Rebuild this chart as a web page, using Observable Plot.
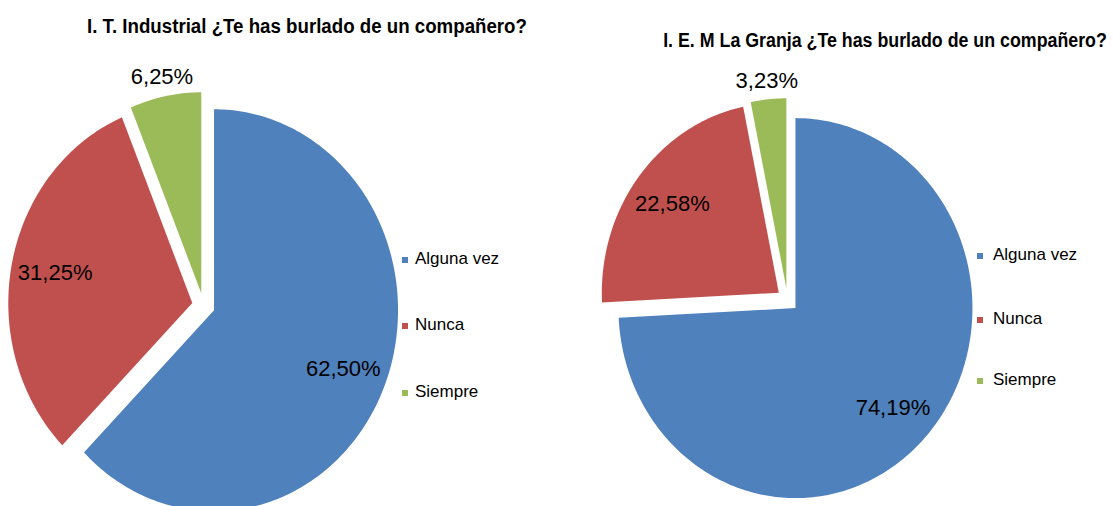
<!DOCTYPE html>
<html><head><meta charset="utf-8">
<script src="https://cdn.jsdelivr.net/npm/d3@7"></script>
<script src="https://cdn.jsdelivr.net/npm/@observablehq/plot@0.6"></script>
<style>
html,body{margin:0;padding:0;background:#fff;overflow:hidden;}
#wrap{position:relative;width:1113px;height:506px;font-family:"Liberation Sans",Arial,sans-serif;color:#000;}
#wrap svg{position:absolute;left:0;top:0;}
.title{position:absolute;font-weight:bold;font-size:18.5px;line-height:20px;white-space:nowrap;transform:translateX(-50%) scaleY(1.1);transform-origin:50% 80%;}
.leg{position:absolute;font-size:17px;line-height:20px;white-space:nowrap;}
.sw{position:absolute;width:6px;height:6px;}
</style></head><body><div id="wrap"></div>
<script>
// ---- data ----
const categories = ["Alguna vez", "Nunca", "Siempre"];
const colors = ["#4F81BD", "#C0504D", "#9BBB59"];
const titles = ["I. T. Industrial ¿Te has burlado de un compañero?", "I. E. M La Granja ¿Te has burlado de un compañero?"];
const industrialValues = [62.50, 31.25, 6.25];
const granjaValues = [74.19, 22.58, 3.23];

// ---- layout ----
const pies = [
  {values: industrialValues, title: titles[0], cx: 203, cy: 305, rx: 184, ry: 201,
   titleX: 307, titleW: 440, titleBase: 33, legX: 402, legTextX: 415, legY: [259.5, 326, 392.5]},
  {values: granjaValues, title: titles[1], cx: 787, cy: 299.5, rx: 177, ry: 190,
   titleX: 885, titleW: 444, titleBase: 47, legX: 977, legTextX: 993, legY: [256, 319.5, 381]}
];
const EXPLODE = 0.062;
const fmt = v => d3.format(".2f")(v).replace(".", ",") + "%";

function slices(values) {
  const total = d3.sum(values);
  let a0 = 0;
  return values.map((v, i) => {
    const a1 = a0 + v / total * 2 * Math.PI;
    const s = {category: categories[i], value: v, share: v / total, a0, a1, mid: (a0 + a1) / 2};
    a0 = a1;
    return s;
  });
}
function polygon(s) {
  const ox = EXPLODE * Math.sin(s.mid), oy = EXPLODE * Math.cos(s.mid);
  const n = Math.max(2, Math.ceil((s.a1 - s.a0) / (Math.PI / 180)));
  const pts = [{x: ox, y: oy}];
  for (let k = 0; k <= n; k++) {
    const a = s.a0 + (s.a1 - s.a0) * k / n;
    pts.push({x: ox + Math.sin(a), y: oy + Math.cos(a)});
  }
  pts.push({x: ox, y: oy});
  return pts.map(p => ({...p, category: s.category}));
}
function label(s) {
  const ox = EXPLODE * Math.sin(s.mid), oy = EXPLODE * Math.cos(s.mid);
  const k = s.share > 0.1 ? 0.76 : 1.095;
  return {x: ox + k * Math.sin(s.mid), y: oy + k * Math.cos(s.mid), text: fmt(s.value)};
}

const wrap = document.getElementById("wrap");
for (const p of pies) {
  const sl = slices(p.values);
  const pts = sl.flatMap(polygon);
  const labels = sl.map(label);
  const chart = Plot.plot({
    width: 1113, height: 506, margin: 0,
    x: {domain: [-1, 1], range: [p.cx - p.rx, p.cx + p.rx], axis: null},
    y: {domain: [-1, 1], range: [p.cy + p.ry, p.cy - p.ry], axis: null},
    color: {domain: categories, range: colors},
    style: {background: "transparent", fontFamily: "Liberation Sans, Arial, sans-serif"},
    marks: [
      Plot.line(pts, {x: "x", y: "y", z: "category", fill: "category", stroke: "none", curve: "linear"}),
      Plot.text(labels, {x: "x", y: "y", text: "text", fontSize: 22, fill: "#000", textAnchor: "middle", lineAnchor: "middle"})
    ]
  });
  wrap.appendChild(chart);

  const t = document.createElement("div");
  t.className = "title";
  t.textContent = p.title;
  t.style.left = p.titleX + "px";
  wrap.appendChild(t);
  const w = t.getBoundingClientRect().width;
  const fs = 18.5 * p.titleW / w;
  t.style.fontSize = fs + "px";
  // baseline ≈ top + (20 - 1.117fs)/2 + 0.905fs
  t.style.top = (p.titleBase - ((20 - 1.117 * fs) / 2 + 0.905 * fs)) + "px";

  categories.forEach((c, i) => {
    const sw = document.createElement("div");
    sw.className = "sw";
    sw.style.background = colors[i];
    sw.style.left = p.legX + "px";
    sw.style.top = (p.legY[i] - 3) + "px";
    wrap.appendChild(sw);
    const l = document.createElement("div");
    l.className = "leg";
    l.textContent = c;
    l.style.left = p.legTextX + "px";
    l.style.top = (p.legY[i] - 11) + "px";
    wrap.appendChild(l);
  });
}
</script></body></html>
